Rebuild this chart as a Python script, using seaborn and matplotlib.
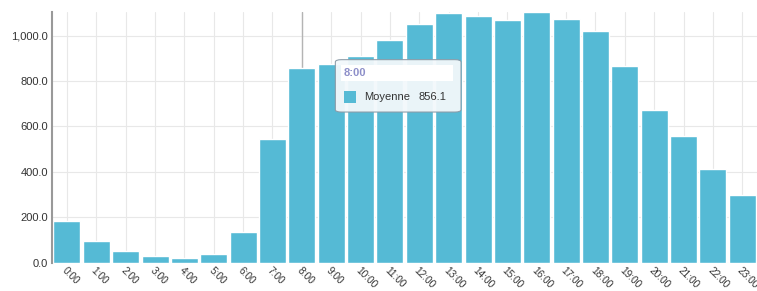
import matplotlib
matplotlib.use("Agg")
import matplotlib.pyplot as plt
import seaborn as sns
import pandas as pd
from matplotlib.patches import FancyBboxPatch, Rectangle

# ==========================================================
# DATA
# ==========================================================

hours = [f"{h}:00" for h in range(24)]
moyenne = [184, 96, 53, 31, 22, 40, 136, 544, 856.1, 873, 912, 979,
           1050, 1100, 1088, 1070, 1104, 1073, 1018, 867, 672, 557, 412, 300]
y_ticks = [0, 200, 400, 600, 800, 1000]

hover_idx = 8

BAR_COLOR = "#55bad5"
TEXT_COLOR = "#333333"

# ==========================================================
# PLOT
# ==========================================================

sns.set_style("whitegrid", {"grid.color": "#e8e8e8", "axes.edgecolor": "#999999"})
plt.rcParams["font.family"] = ["Liberation Sans", "DejaVu Sans"]

df = pd.DataFrame({"heure": hours, "moyenne": moyenne})

fig = plt.figure(figsize=(7.57, 2.91), dpi=100)
ax = fig.add_axes([0.069, 0.097, 0.931, 0.863])

sns.barplot(data=df, x="heure", y="moyenne", color=BAR_COLOR,
            saturation=1, width=0.92, ax=ax, zorder=2)

# crosshair on hovered category
ax.axvline(hover_idx, color="#b4b4b4", lw=1, zorder=1.5)

ax.set_xlim(-0.5, 23.5)
ax.set_ylim(0, 1105)
ax.set_yticks(y_ticks)
ax.set_yticklabels([f"{v:,.1f}" for v in y_ticks], fontsize=8, color=TEXT_COLOR)
ax.set_xticks(range(len(hours)))
ax.set_xticklabels(hours, rotation=-45, ha="left", rotation_mode="anchor",
                   fontsize=7.3, color=TEXT_COLOR)
ax.tick_params(axis="y", length=0, pad=3)
ax.tick_params(axis="x", length=0, pad=2)
ax.set_xlabel("")
ax.set_ylabel("")
ax.grid(True, axis="both", color="#e8e8e8", lw=0.8)
ax.set_axisbelow(True)

for side in ["top", "right", "bottom"]:
    ax.spines[side].set_visible(False)
ax.spines["left"].set_color("#999999")
ax.spines["left"].set_linewidth(1.5)

# ==========================================================
# TOOLTIP
# ==========================================================

box = FancyBboxPatch((0.443, 0.615), 0.166, 0.18, transform=fig.transFigure,
                     boxstyle="round,pad=0,rounding_size=0.008",
                     facecolor="#f3f8fb", edgecolor="#8a9aa6", lw=0.8,
                     alpha=0.95, zorder=10)
fig.patches.append(box)
band = Rectangle((0.451, 0.72), 0.148, 0.058, transform=fig.transFigure,
                 facecolor="white", edgecolor="none", zorder=11)
fig.patches.append(band)
fig.text(0.454, 0.749, hours[hover_idx], fontsize=8, fontweight="bold",
         color="#8d8fc9", va="center", zorder=12)
square = Rectangle((0.454, 0.645), 0.016, 0.042, transform=fig.transFigure,
                   facecolor=BAR_COLOR, edgecolor="none", zorder=12)
fig.patches.append(square)
fig.text(0.481, 0.666, "Moyenne", fontsize=8, color=TEXT_COLOR, va="center", zorder=12)
fig.text(0.553, 0.666, f"{moyenne[hover_idx]:.1f}", fontsize=8, color=TEXT_COLOR,
         va="center", zorder=12)

fig.savefig("out.png", dpi=100)
plt.close(fig)
